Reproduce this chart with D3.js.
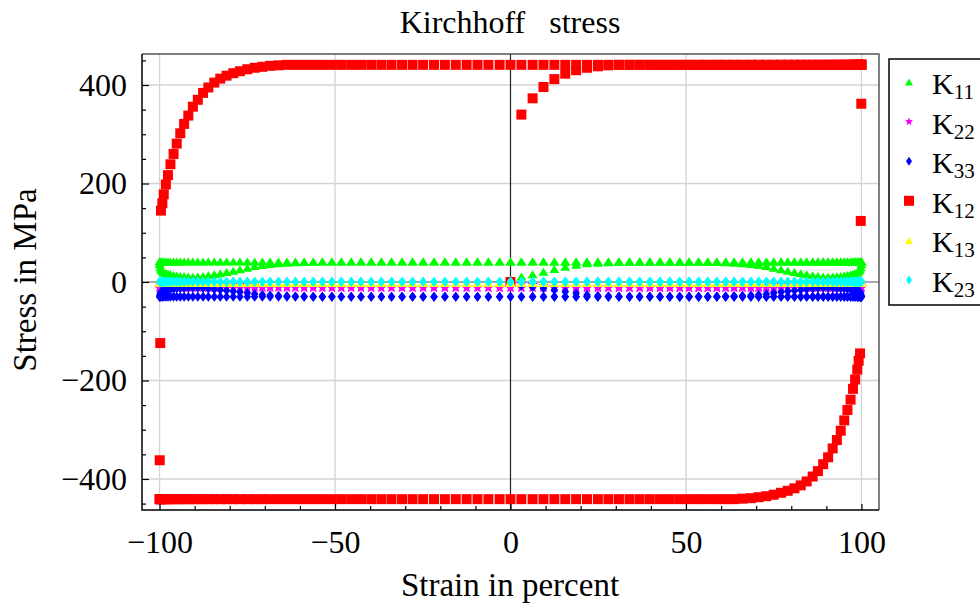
<!DOCTYPE html>
<html>
<head>
<meta charset="utf-8">
<script src="https://cdn.jsdelivr.net/npm/d3@7"></script>
<style>
body { margin: 0; background: #fff; }
text { font-family: "Liberation Serif", "Times New Roman", serif; fill: #000; }
</style>
</head>
<body>
<script>
// strain path: 0 -> 100 -> -100 -> 100 (percent), rows of 10
var loadStrain = [
  0, 3.1, 6.3, 9.4, 12.5, 15.6, 18.7, 21.8, 24.9, 27.9,
  30.9, 33.9, 36.8, 39.7, 42.6, 45.4, 48.2, 50.9, 53.6, 56.2,
  58.8, 61.3, 63.7, 66.1, 68.5, 70.7, 72.9, 75.0, 77.1, 79.0,
  80.9, 82.7, 84.4, 86.1, 87.6, 89.1, 90.5, 91.8, 93.0, 94.1,
  95.1, 96.0, 96.9, 97.6, 98.2, 98.8, 99.2, 99.6, 99.8, 99.95,
  100];
var unloadStrain = [
  99.95, 99.8, 99.6, 99.2, 98.8, 98.2, 97.6, 96.9, 96.0, 95.1,
  94.1, 93.0, 91.8, 90.5, 89.1, 87.6, 86.1, 84.4, 82.7, 80.9,
  79.0, 77.1, 75.0, 72.9, 70.7, 68.5, 66.1, 63.7, 61.3, 58.8,
  56.2, 53.6, 50.9, 48.2, 45.4, 42.6, 39.7, 36.8, 33.9, 30.9,
  27.9, 24.9, 21.8, 18.7, 15.6, 12.5, 9.4, 6.3, 3.1, 0,
  -3.1, -6.3, -9.4, -12.5, -15.6, -18.7, -21.8, -24.9, -27.9, -30.9,
  -33.9, -36.8, -39.7, -42.6, -45.4, -48.2, -50.9, -53.6, -56.2, -58.8,
  -61.3, -63.7, -66.1, -68.5, -70.7, -72.9, -75.0, -77.1, -79.0, -80.9,
  -82.7, -84.4, -86.1, -87.6, -89.1, -90.5, -91.8, -93.0, -94.1, -95.1,
  -96.0, -96.9, -97.6, -98.2, -98.8, -99.2, -99.6, -99.8, -99.95, -100];
var reloadStrain = [
  -99.95, -99.8, -99.6, -99.2, -98.8, -98.2, -97.6, -96.9, -96.0, -95.1,
  -94.1, -93.0, -91.8, -90.5, -89.1, -87.6, -86.1, -84.4, -82.7, -80.9,
  -79.0, -77.1, -75.0, -72.9, -70.7, -68.5, -66.1, -63.7, -61.3, -58.8,
  -56.2, -53.6, -50.9, -48.2, -45.4, -42.6, -39.7, -36.8, -33.9, -30.9,
  -27.9, -24.9, -21.8, -18.7, -15.6, -12.5, -9.4, -6.3, -3.1, 0,
  3.1, 6.3, 9.4, 12.5, 15.6, 18.7, 21.8, 24.9, 27.9, 30.9,
  33.9, 36.8, 39.7, 42.6, 45.4, 48.2, 50.9, 53.6, 56.2, 58.8,
  61.3, 63.7, 66.1, 68.5, 70.7, 72.9, 75.0, 77.1, 79.0, 80.9,
  82.7, 84.4, 86.1, 87.6, 89.1, 90.5, 91.8, 93.0, 94.1, 95.1,
  96.0, 96.9, 97.6, 98.2, 98.8, 99.2, 99.6, 99.8, 99.95, 100];

// K11
var k11Load = [
  0, 11, 15.6, 21, 26.4, 31, 35, 38, 39.3, 40.3,
  41, 41.3, 41.5, 41.5, 41.5, 41.5, 41.5, 41.5, 41.5, 41.5,
  41.5, 41.5, 41.5, 41.5, 41.5, 41.5, 41.5, 41.5, 41.5, 41.5,
  41.5, 41.5, 41.5, 41.5, 41.5, 41.5, 41.5, 41.5, 41.5, 41.5,
  41.5, 41.5, 41.5, 41.5, 41.5, 41.5, 41.5, 41.5, 41.5, 41.5,
  41.5];
var k11Unload = [
  36, 30, 25, 22, 20, 18.5, 17, 15.5, 14, 13,
  12, 11.5, 11, 10.8, 11.2, 12.2, 13.8, 15.6, 18, 20.3,
  23, 25.7, 29, 32.5, 34.7, 36.5, 38, 39, 40, 40.7,
  41.1, 41.5, 41.5, 41.5, 41.5, 41.5, 41.5, 41.5, 41.5, 41.5,
  41.5, 41.5, 41.5, 41.5, 41.5, 41.5, 41.5, 41.5, 41.5, 41.5,
  41.5, 41.5, 41.5, 41.5, 41.5, 41.5, 41.5, 41.5, 41.5, 41.5,
  41.5, 41.5, 41.5, 41.5, 41.5, 41.5, 41.5, 41.5, 41.5, 41.5,
  41.5, 41.5, 41.5, 41.5, 41.5, 41.5, 41.5, 41.5, 41.5, 41.5,
  41.5, 41.5, 41.5, 41.5, 41.5, 41.5, 41.5, 41.5, 41.5, 41.5,
  41.5, 41.5, 41.5, 41.5, 41.5, 41.5, 41.5, 41.5, 41.5, 41.5];
var k11Reload = [
  36, 30, 25, 22, 20, 18.5, 17, 15.5, 14, 13,
  12, 11.5, 11, 10.8, 11.2, 12.2, 13.8, 15.6, 18, 20.3,
  23, 25.7, 29, 32.5, 34.7, 36.5, 38, 39, 40, 40.7,
  41.1, 41.5, 41.5, 41.5, 41.5, 41.5, 41.5, 41.5, 41.5, 41.5,
  41.5, 41.5, 41.5, 41.5, 41.5, 41.5, 41.5, 41.5, 41.5, 41.5,
  41.5, 41.5, 41.5, 41.5, 41.5, 41.5, 41.5, 41.5, 41.5, 41.5,
  41.5, 41.5, 41.5, 41.5, 41.5, 41.5, 41.5, 41.5, 41.5, 41.5,
  41.5, 41.5, 41.5, 41.5, 41.5, 41.5, 41.5, 41.5, 41.5, 41.5,
  41.5, 41.5, 41.5, 41.5, 41.5, 41.5, 41.5, 41.5, 41.5, 41.5,
  41.5, 41.5, 41.5, 41.5, 41.5, 41.5, 41.5, 41.5, 41.5, 41.5];

// K22
var k22Load = [
  0, -4, -5.6, -8.1, -10.2, -11.4, -12, -11.6, -11.3, -11.3,
  -11.4, -11.5, -11.5, -11.5, -11.5, -11.5, -11.5, -11.5, -11.5, -11.5,
  -11.5, -11.5, -11.5, -11.5, -11.5, -11.5, -11.5, -11.5, -11.5, -11.5,
  -11.5, -11.5, -11.5, -11.5, -11.5, -11.5, -11.5, -11.5, -11.5, -11.5,
  -11.5, -11.5, -11.5, -11.5, -11.5, -11.5, -11.5, -11.5, -11.5, -11.5,
  -11.5];
var k22Unload = [
  -9.3, -6.9, -4.9, -3.7, -2.9, -2.3, -1.7, -1.1, -0.5, -0.1,
  0.3, 0.5, 0.7, 0.8, 0.6, 0.2, -0.4, -1.1, -2.1, -3,
  -4.1, -5.2, -6.5, -7.9, -8.8, -9.5, -10.1, -10.5, -10.9, -11.2,
  -11.3, -11.5, -11.5, -11.5, -11.5, -11.5, -11.5, -11.5, -11.5, -11.5,
  -11.5, -11.5, -11.5, -11.5, -11.5, -11.5, -11.5, -11.5, -11.5, -11.5,
  -11.5, -11.5, -11.5, -11.5, -11.5, -11.5, -11.5, -11.5, -11.5, -11.5,
  -11.5, -11.5, -11.5, -11.5, -11.5, -11.5, -11.5, -11.5, -11.5, -11.5,
  -11.5, -11.5, -11.5, -11.5, -11.5, -11.5, -11.5, -11.5, -11.5, -11.5,
  -11.5, -11.5, -11.5, -11.5, -11.5, -11.5, -11.5, -11.5, -11.5, -11.5,
  -11.5, -11.5, -11.5, -11.5, -11.5, -11.5, -11.5, -11.5, -11.5, -11.5];
var k22Reload = [
  -9.3, -6.9, -4.9, -3.7, -2.9, -2.3, -1.7, -1.1, -0.5, -0.1,
  0.3, 0.5, 0.7, 0.8, 0.6, 0.2, -0.4, -1.1, -2.1, -3,
  -4.1, -5.2, -6.5, -7.9, -8.8, -9.5, -10.1, -10.5, -10.9, -11.2,
  -11.3, -11.5, -11.5, -11.5, -11.5, -11.5, -11.5, -11.5, -11.5, -11.5,
  -11.5, -11.5, -11.5, -11.5, -11.5, -11.5, -11.5, -11.5, -11.5, -11.5,
  -11.5, -11.5, -11.5, -11.5, -11.5, -11.5, -11.5, -11.5, -11.5, -11.5,
  -11.5, -11.5, -11.5, -11.5, -11.5, -11.5, -11.5, -11.5, -11.5, -11.5,
  -11.5, -11.5, -11.5, -11.5, -11.5, -11.5, -11.5, -11.5, -11.5, -11.5,
  -11.5, -11.5, -11.5, -11.5, -11.5, -11.5, -11.5, -11.5, -11.5, -11.5,
  -11.5, -11.5, -11.5, -11.5, -11.5, -11.5, -11.5, -11.5, -11.5, -11.5];

// K33
var k33Load = [
  0, -7, -10, -12.9, -16.2, -19.6, -23, -26.4, -28, -29,
  -29.6, -29.8, -30, -30, -30, -30, -30, -30, -30, -30,
  -30, -30, -30, -30, -30, -30, -30, -30, -30, -30,
  -30, -30, -30, -30, -30, -30, -30, -30, -30, -30,
  -30, -30, -30, -30, -30, -30, -30, -30, -30, -30,
  -30];
var k33Unload = [
  -26.7, -23.1, -20.1, -18.3, -17.1, -16.2, -15.3, -14.4, -13.5, -12.9,
  -12.3, -12, -11.7, -11.6, -11.8, -12.4, -13.4, -14.5, -15.9, -17.3,
  -18.9, -20.5, -22.5, -24.6, -25.9, -27, -27.9, -28.5, -29.1, -29.5,
  -29.8, -30, -30, -30, -30, -30, -30, -30, -30, -30,
  -30, -30, -30, -30, -30, -30, -30, -30, -30, -30,
  -30, -30, -30, -30, -30, -30, -30, -30, -30, -30,
  -30, -30, -30, -30, -30, -30, -30, -30, -30, -30,
  -30, -30, -30, -30, -30, -30, -30, -30, -30, -30,
  -30, -30, -30, -30, -30, -30, -30, -30, -30, -30,
  -30, -30, -30, -30, -30, -30, -30, -30, -30, -30];
var k33Reload = [
  -26.7, -23.1, -20.1, -18.3, -17.1, -16.2, -15.3, -14.4, -13.5, -12.9,
  -12.3, -12, -11.7, -11.6, -11.8, -12.4, -13.4, -14.5, -15.9, -17.3,
  -18.9, -20.5, -22.5, -24.6, -25.9, -27, -27.9, -28.5, -29.1, -29.5,
  -29.8, -30, -30, -30, -30, -30, -30, -30, -30, -30,
  -30, -30, -30, -30, -30, -30, -30, -30, -30, -30,
  -30, -30, -30, -30, -30, -30, -30, -30, -30, -30,
  -30, -30, -30, -30, -30, -30, -30, -30, -30, -30,
  -30, -30, -30, -30, -30, -30, -30, -30, -30, -30,
  -30, -30, -30, -30, -30, -30, -30, -30, -30, -30,
  -30, -30, -30, -30, -30, -30, -30, -30, -30, -30];

// K12
var k12Load = [
  0, 340, 373, 396, 412, 423, 430, 435, 438, 440,
  441, 441, 441, 441, 441, 441, 441, 441, 441, 441,
  441, 441, 441, 441, 441, 441, 441, 441, 441, 441,
  441, 441, 441, 441, 441, 441, 441, 441, 441, 441,
  441, 441, 441, 441, 441, 441, 441, 441, 441, 441,
  441];
var k12Unload = [
  362, 124, -145, -160, -178, -198, -217, -239, -260, -281,
  -302, -321, -338, -356, -370, -384, -395, -405, -413, -419,
  -424, -428, -432, -435, -437, -439, -440, -441, -441, -441,
  -441, -441, -441, -441, -441, -441, -441, -441, -441, -441,
  -441, -441, -441, -441, -441, -441, -441, -441, -441, -441,
  -441, -441, -441, -441, -441, -441, -441, -441, -441, -441,
  -441, -441, -441, -441, -441, -441, -441, -441, -441, -441,
  -441, -441, -441, -441, -441, -441, -441, -441, -441, -441,
  -441, -441, -441, -441, -441, -441, -441, -441, -441, -441,
  -441, -441, -441, -441, -441, -441, -441, -441, -441, -441];
var k12Reload = [
  -362, -124, 145, 160, 178, 198, 217, 239, 260, 281,
  302, 321, 338, 356, 370, 384, 395, 405, 413, 419,
  424, 428, 432, 435, 437, 439, 440, 441, 441, 441,
  441, 441, 441, 441, 441, 441, 441, 441, 441, 441,
  441, 441, 441, 441, 441, 441, 441, 441, 441, 441,
  441, 441, 441, 441, 441, 441, 441, 441, 441, 441,
  441, 441, 441, 441, 441, 441, 441, 441, 441, 441,
  441, 441, 441, 441, 441, 441, 441, 441, 441, 441,
  441, 441, 441, 441, 441, 441, 441, 441, 441, 441,
  441, 441, 441, 441, 441, 441, 441, 441, 441, 441];

// K13
var k13Load = [
  0, -2, -2, -2, -2, -2, -2, -2, -2, -2,
  -2, -2, -2, -2, -2, -2, -2, -2, -2, -2,
  -2, -2, -2, -2, -2, -2, -2, -2, -2, -2,
  -2, -2, -2, -2, -2, -2, -2, -2, -2, -2,
  -2, -2, -2, -2, -2, -2, -2, -2, -2, -2,
  -2];
var k13Unload = [
  -2, -2, -2, -2, -2, -2, -2, -2, -2, -2,
  -2, -2, -2, -2, -2, -2, -2, -2, -2, -2,
  -2, -2, -2, -2, -2, -2, -2, -2, -2, -2,
  -2, -2, -2, -2, -2, -2, -2, -2, -2, -2,
  -2, -2, -2, -2, -2, -2, -2, -2, -2, -2,
  -2, -2, -2, -2, -2, -2, -2, -2, -2, -2,
  -2, -2, -2, -2, -2, -2, -2, -2, -2, -2,
  -2, -2, -2, -2, -2, -2, -2, -2, -2, -2,
  -2, -2, -2, -2, -2, -2, -2, -2, -2, -2,
  -2, -2, -2, -2, -2, -2, -2, -2, -2, -2];
var k13Reload = [
  -2, -2, -2, -2, -2, -2, -2, -2, -2, -2,
  -2, -2, -2, -2, -2, -2, -2, -2, -2, -2,
  -2, -2, -2, -2, -2, -2, -2, -2, -2, -2,
  -2, -2, -2, -2, -2, -2, -2, -2, -2, -2,
  -2, -2, -2, -2, -2, -2, -2, -2, -2, -2,
  -2, -2, -2, -2, -2, -2, -2, -2, -2, -2,
  -2, -2, -2, -2, -2, -2, -2, -2, -2, -2,
  -2, -2, -2, -2, -2, -2, -2, -2, -2, -2,
  -2, -2, -2, -2, -2, -2, -2, -2, -2, -2,
  -2, -2, -2, -2, -2, -2, -2, -2, -2, -2];

// K23
var k23Load = [
  0, 0.5, 0.5, 0.5, 0.5, 0.5, 0.5, 0.5, 0.5, 0.5,
  0.5, 0.5, 0.5, 0.5, 0.5, 0.5, 0.5, 0.5, 0.5, 0.5,
  0.5, 0.5, 0.5, 0.5, 0.5, 0.5, 0.5, 0.5, 0.5, 0.5,
  0.5, 0.5, 0.5, 0.5, 0.5, 0.5, 0.5, 0.5, 0.5, 0.5,
  0.5, 0.5, 0.5, 0.5, 0.5, 0.5, 0.5, 0.5, 0.5, 0.5,
  0.5];
var k23Unload = [
  0.5, 0.5, 0.5, 0.5, 0.5, 0.5, 0.5, 0.5, 0.5, 0.5,
  0.5, 0.5, 0.5, 0.5, 0.5, 0.5, 0.5, 0.5, 0.5, 0.5,
  0.5, 0.5, 0.5, 0.5, 0.5, 0.5, 0.5, 0.5, 0.5, 0.5,
  0.5, 0.5, 0.5, 0.5, 0.5, 0.5, 0.5, 0.5, 0.5, 0.5,
  0.5, 0.5, 0.5, 0.5, 0.5, 0.5, 0.5, 0.5, 0.5, 0.5,
  0.5, 0.5, 0.5, 0.5, 0.5, 0.5, 0.5, 0.5, 0.5, 0.5,
  0.5, 0.5, 0.5, 0.5, 0.5, 0.5, 0.5, 0.5, 0.5, 0.5,
  0.5, 0.5, 0.5, 0.5, 0.5, 0.5, 0.5, 0.5, 0.5, 0.5,
  0.5, 0.5, 0.5, 0.5, 0.5, 0.5, 0.5, 0.5, 0.5, 0.5,
  0.5, 0.5, 0.5, 0.5, 0.5, 0.5, 0.5, 0.5, 0.5, 0.5];
var k23Reload = [
  0.5, 0.5, 0.5, 0.5, 0.5, 0.5, 0.5, 0.5, 0.5, 0.5,
  0.5, 0.5, 0.5, 0.5, 0.5, 0.5, 0.5, 0.5, 0.5, 0.5,
  0.5, 0.5, 0.5, 0.5, 0.5, 0.5, 0.5, 0.5, 0.5, 0.5,
  0.5, 0.5, 0.5, 0.5, 0.5, 0.5, 0.5, 0.5, 0.5, 0.5,
  0.5, 0.5, 0.5, 0.5, 0.5, 0.5, 0.5, 0.5, 0.5, 0.5,
  0.5, 0.5, 0.5, 0.5, 0.5, 0.5, 0.5, 0.5, 0.5, 0.5,
  0.5, 0.5, 0.5, 0.5, 0.5, 0.5, 0.5, 0.5, 0.5, 0.5,
  0.5, 0.5, 0.5, 0.5, 0.5, 0.5, 0.5, 0.5, 0.5, 0.5,
  0.5, 0.5, 0.5, 0.5, 0.5, 0.5, 0.5, 0.5, 0.5, 0.5,
  0.5, 0.5, 0.5, 0.5, 0.5, 0.5, 0.5, 0.5, 0.5, 0.5];

var seriesNames = ["11", "22", "33", "12", "13", "23"];
var seriesColors = ["#00ff00", "#ff00ff", "#0000ff", "#ff0000", "#ffff00", "#00ffff"];
var seriesShapes = ["triangle", "star", "diamond", "square", "triangle", "diamond"];
var seriesValues = [
  [k11Load, k11Unload, k11Reload],
  [k22Load, k22Unload, k22Reload],
  [k33Load, k33Unload, k33Reload],
  [k12Load, k12Unload, k12Reload],
  [k13Load, k13Unload, k13Reload],
  [k23Load, k23Unload, k23Reload]
];
var strainBranches = [loadStrain, unloadStrain, reloadStrain];

var xMajor = [-100, -50, 0, 50, 100];
var yMajor = [-400, -200, 0, 200, 400];

var width = 980,
    height = 603;

var svg = d3.select("body").append("svg")
    .attr("width", width)
    .attr("height", height)
    .style("display", "block");

var x = d3.scaleLinear().domain([-105, 105]).range([142, 879]);
var y = d3.scaleLinear().domain([-463, 463]).range([510, 54]);

// marker paths, sizes in px
function markerPath(shape, big) {
    if (shape == "triangle") {
        var w = big ? 10 : 8, h = big ? 8 : 7;
        return "M0," + (-h / 2) + "L" + (w / 2) + "," + (h / 2) + "L" + (-w / 2) + "," + (h / 2) + "Z";
    }
    if (shape == "diamond") {
        var w = big ? 7.5 : 6, h = big ? 10 : 9;
        return "M0," + (-h / 2) + "L" + (w / 2) + ",0L0," + (h / 2) + "L" + (-w / 2) + ",0Z";
    }
    if (shape == "square") {
        return "M-5,-5H5V5H-5Z";
    }
    // 5 point star
    var R = big ? 5.5 : 4.2, r = R * 0.45, p = "";
    for (var i = 0; i < 10; i++) {
        var a = -Math.PI / 2 + i * Math.PI / 5, rr = i % 2 ? r : R;
        p += (i ? "L" : "M") + (rr * Math.cos(a)).toFixed(2) + "," + (rr * Math.sin(a)).toFixed(2);
    }
    return p + "Z";
}

// grid
svg.append("g").selectAll("line").data(xMajor.filter(d => d != 0)).enter().append("line")
    .attr("x1", d => x(d)).attr("x2", d => x(d))
    .attr("y1", 54).attr("y2", 510)
    .attr("stroke", "#d3d3d3").attr("stroke-width", 1.3);
svg.append("g").selectAll("line").data(yMajor.filter(d => d != 0)).enter().append("line")
    .attr("y1", d => y(d)).attr("y2", d => y(d))
    .attr("x1", 142).attr("x2", 879)
    .attr("stroke", "#d3d3d3").attr("stroke-width", 1.3);

// zero axes
svg.append("line").attr("x1", x(0)).attr("x2", x(0)).attr("y1", 54).attr("y2", 510)
    .attr("stroke", "#222").attr("stroke-width", 1.2);
svg.append("line").attr("x1", 142).attr("x2", 879).attr("y1", y(0)).attr("y2", y(0))
    .attr("stroke", "#555").attr("stroke-width", 1.2);

// points
seriesValues.forEach(function(branches, s) {
    var pts = [];
    branches.forEach(function(vals, b) {
        vals.forEach(function(v, i) {
            var sx = strainBranches[b][i];
            if (sx !== undefined) pts.push({x: sx, y: v});
        });
    });
    svg.append("g").selectAll("path").data(pts).enter().append("path")
        .attr("d", markerPath(seriesShapes[s], true))
        .attr("transform", d => "translate(" + x(d.x) + "," + y(d.y) + ")")
        .attr("fill", seriesColors[s]);
});

// frame
svg.append("path").attr("d", "M142,54H879V510").attr("fill", "none")
    .attr("stroke", "#555").attr("stroke-width", 1.5);
svg.append("path").attr("d", "M142,54V510H879").attr("fill", "none")
    .attr("stroke", "#000").attr("stroke-width", 1.5);

// axes
svg.append("g").attr("transform", "translate(0,510)")
    .call(d3.axisBottom(x).tickValues(xMajor).tickSize(-6).tickSizeOuter(0).tickPadding(20));
svg.append("g").attr("transform", "translate(0,510)")
    .call(d3.axisBottom(x).tickValues(d3.range(-100, 101, 10).filter(d => d % 50 != 0)).tickSize(-4).tickSizeOuter(0).tickFormat(""));
svg.append("g").attr("transform", "translate(142,0)")
    .call(d3.axisLeft(y).tickValues(yMajor).tickSize(-7).tickSizeOuter(0).tickPadding(15));
svg.append("g").attr("transform", "translate(142,0)")
    .call(d3.axisLeft(y).tickValues(d3.range(-450, 451, 50).filter(d => d % 200 != 0)).tickSize(-4).tickSizeOuter(0).tickFormat(""));
svg.selectAll(".domain").remove();
svg.selectAll(".tick line").attr("stroke", "#000").attr("stroke-width", 1.2);
svg.selectAll(".tick text").attr("font-size", 32).style("font-family", "'Liberation Serif', serif").attr("fill", "#000");

// title and labels
svg.append("text").attr("x", 510).attr("y", 33).attr("text-anchor", "middle")
    .attr("font-size", 32).style("white-space", "pre").text("Kirchhoff   stress");
svg.append("text").attr("x", 510).attr("y", 596).attr("text-anchor", "middle")
    .attr("font-size", 33).text("Strain in percent");
svg.append("text").attr("transform", "translate(36,280) rotate(-90)").attr("text-anchor", "middle")
    .attr("font-size", 33).text("Stress in MPa");

// legend
var legend = svg.append("g");
legend.append("rect").attr("x", 889).attr("y", 59).attr("width", 120).attr("height", 246)
    .attr("fill", "#fff").attr("stroke", "#000").attr("stroke-width", 1.5);
seriesNames.forEach(function(n, i) {
    var cy = 82 + i * 39.6;
    legend.append("path").attr("d", markerPath(seriesShapes[i], false))
        .attr("transform", "translate(909," + cy + ")")
        .attr("fill", seriesColors[i]);
    var t = legend.append("text").attr("x", 932).attr("y", cy + 12).attr("font-size", 30);
    t.append("tspan").text("K");
    t.append("tspan").attr("font-size", 21).attr("dy", 5).text(n);
});
</script>
</body>
</html>
